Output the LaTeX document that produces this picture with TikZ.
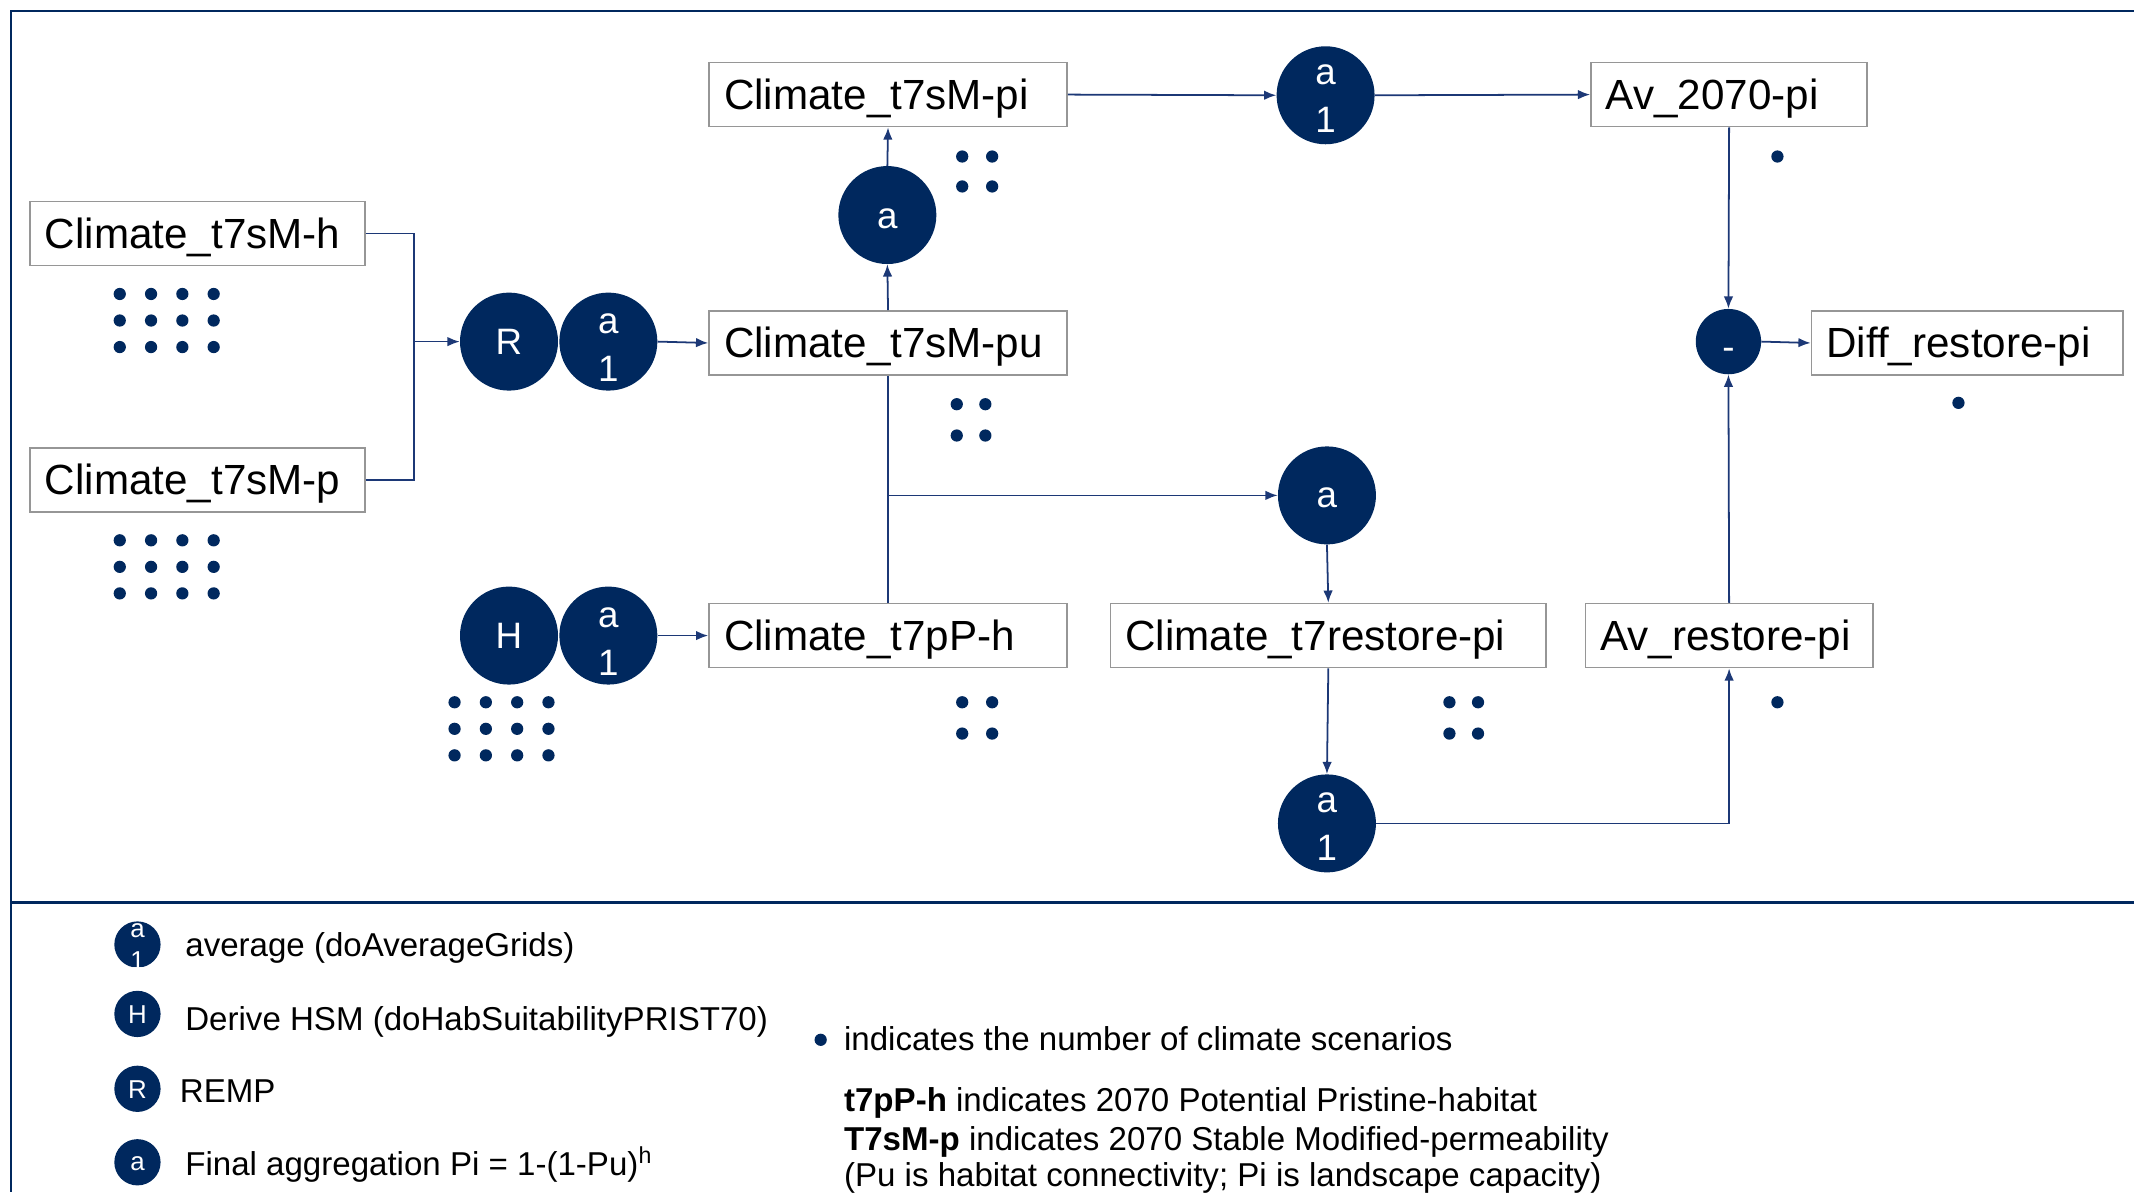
\documentclass[tikz,border=0pt]{standalone}
\usepackage{fontspec}
\setmainfont{Liberation Sans}
\usetikzlibrary{arrows.meta,calc}

\definecolor{navy}{RGB}{0,40,94}
\definecolor{linec}{RGB}{28,56,118}
\definecolor{boxedge}{RGB}{150,150,150}

\newcommand\fs[1]{\fontsize{#1}{#1}\selectfont}

\tikzset{
  box/.style={draw=boxedge, line width=1.2pt, fill=white, minimum height=47pt,
    inner xsep=11pt, inner ysep=0pt, align=left, text height=22pt, text depth=0pt,
    font=\fs{31}},
  op/.style={circle, fill=navy, minimum size=72pt, inner sep=0pt},
  smallop/.style={circle, fill=navy, minimum size=34pt, inner sep=0pt},
  opl/.style={text=white, inner sep=0pt, anchor=base, font=\fs{27}},
  legl/.style={text=white, inner sep=0pt, anchor=base, font=\fs{19}},
  link/.style={draw=linec, line width=1.3pt},
  arr/.style={link, -{Latex[length=9pt,width=7pt]}},
  dotm/.style={circle, fill=navy, minimum size=9pt, inner sep=0pt},
  legtext/.style={anchor=base west, inner sep=0pt, font=\fs{24.3}},
  frame/.style={draw=navy, line width=1.6pt}
}

% label inside an operator circle: circle name, baseline offset, text
\newcommand\oplab[4][opl]{\node[#1] at ($(#2)+(0,#3)$) {#4};}
% groups of scenario dots, given first dot, columns, rows and spacing
\newcommand\dotgrid[6]{%
  \foreach \i in {1,...,#3}{\foreach \j in {1,...,#4}{%
    \node[dotm] (g#1-\i-\j) at ($(#2)+({(\i-1)*#5},{(\j-1)*#6})$) {};}}}

\begin{document}
\begin{tikzpicture}[x=1pt,y=-1pt]
\useasboundingbox (0,0) rectangle (1568,876);

% frame and legend separator
\coordinate (ftl) at (8,8);
\coordinate (ftr) at (1568,8);
\coordinate (fbl) at (8,876);
\coordinate (sepl) at (8,663);
\coordinate (sepr) at (1568,663);
\draw[frame] (ftr) -- (ftl) -- (fbl);
\draw[frame, line width=2.2pt] (sepl) -- (sepr);

% data layers
\node[box, text width=224pt] (smh) at (145,171.5) {Climate\_t7sM-h};
\node[box, text width=224pt] (smp) at (145,352.5) {Climate\_t7sM-p};
\node[box, text width=241pt] (smpi) at (652.5,69.5) {Climate\_t7sM-pi};
\node[box, text width=241pt] (smpu) at (652.5,252) {Climate\_t7sM-pu};
\node[box, text width=241pt] (pph) at (652.5,467) {Climate\_t7pP-h};
\node[box, text width=298pt] (rst) at (976,467) {Climate\_t7restore-pi};
\node[box, text width=181pt] (av70) at (1270.5,69.5) {Av\_2070-pi};
\node[box, text width=189pt] (avr) at (1270.5,467) {Av\_restore-pi};
\node[box, text width=207pt] (diff) at (1445.5,252) {Diff\_restore-pi};

% operators
\node[op] (remp) at (374,251) {};
\oplab{remp}{9.5}{R}
\node[op] (avg1) at (447,251) {};
\oplab{avg1}{-6}{a}\oplab{avg1}{29}{1}
\node[op] (hsm) at (374,467) {};
\oplab{hsm}{9.5}{H}
\node[op] (avg2) at (447,467) {};
\oplab{avg2}{-6}{a}\oplab{avg2}{29}{1}
\node[op] (agg1) at (652,158) {};
\oplab{agg1}{10}{a}
\node[op] (avg3) at (974,70) {};
\oplab{avg3}{-8}{a}\oplab{avg3}{27}{1}
\node[op] (agg2) at (975,364) {};
\oplab{agg2}{9}{a}
\node[op] (avg4) at (975,605) {};
\oplab{avg4}{-8}{a}\oplab{avg4}{27}{1}
\node[op, minimum size=48pt] (minus) at (1270,251) {};
\oplab{minus}{13}{-}

% connectors
\coordinate (join) at (304,251);
\draw[link] (smh.east) -| (join);
\draw[link] (smp.east) -| (join);
\draw[arr] (join) -- (remp.west);
\draw[arr] (avg1.east) -- (smpu.west);
\draw[arr] (smpu.north) -- (agg1.south);
\draw[arr] (agg1.north) -- (smpi.south);
\draw[arr] (smpi.east) -- (avg3.west);
\draw[arr] (avg3.east) -- (av70.west);
\draw[arr] (av70.south) -- (minus.north);
\draw[arr] (minus.east) -- (diff.west);
\coordinate (tee) at (652,364);
\draw[link] (smpu.south) -- (pph.north);
\draw[arr] (tee) -- (agg2.west);
\draw[arr] (avg2.east) -- (pph.west);
\draw[arr] (agg2.south) -- (rst.north);
\draw[arr] (rst.south) -- (avg4.north);
\draw[arr] (avg4.east) -| (avr.south);
\draw[arr] (avr.north) -- (minus.south);

% scenario counts
\dotgrid{a}{88,216}{4}{3}{23}{19.5}
\dotgrid{b}{88,397}{4}{3}{23}{19.5}
\dotgrid{c}{334,516}{4}{3}{23}{19.5}
\dotgrid{d}{707,115}{2}{2}{22}{22}
\dotgrid{e}{703,297}{2}{2}{21}{23}
\dotgrid{f}{707,516}{2}{2}{22}{23}
\dotgrid{g}{1065,516}{2}{2}{21}{23}
\node[dotm] (s1) at (1306,115) {};
\node[dotm] (s2) at (1439,296) {};
\node[dotm] (s3) at (1306,516) {};

% legend: operators
\node[smallop] (lavg) at (101,694) {};
\oplab[legl]{lavg}{-5}{a}\oplab[legl]{lavg}{18}{1}
\node[legtext] (tavg) at (136,703) {average (doAverageGrids)};
\node[smallop] (lhsm) at (101,745) {};
\oplab[legl]{lhsm}{7}{H}
\node[legtext] (thsm) at (136,757) {Derive HSM (doHabSuitabilityPRIST70)};
\node[smallop] (lremp) at (101,800) {};
\oplab[legl]{lremp}{7}{R}
\node[legtext] (tremp) at (132,810) {REMP};
\node[smallop] (lagg) at (101,854) {};
\oplab[legl]{lagg}{6}{a}
\node[legtext] (tagg) at (136,864) {Final aggregation Pi = 1-(1-Pu)\textsuperscript{h}};

% legend: notes
\node[dotm] (ldot) at (603,764) {};
\node[legtext] (tdot) at (620,772) {indicates the number of climate scenarios};
\node[legtext] (tpph) at (620,817) {\textbf{t7pP-h} indicates 2070 Potential Pristine-habitat};
\node[legtext] (tsmp) at (620,845) {\textbf{T7sM-p} indicates 2070 Stable Modified-permeability};
\node[legtext] (tpu) at (620,872) {(Pu is habitat connectivity; Pi is landscape capacity)};
\end{tikzpicture}
\end{document}
